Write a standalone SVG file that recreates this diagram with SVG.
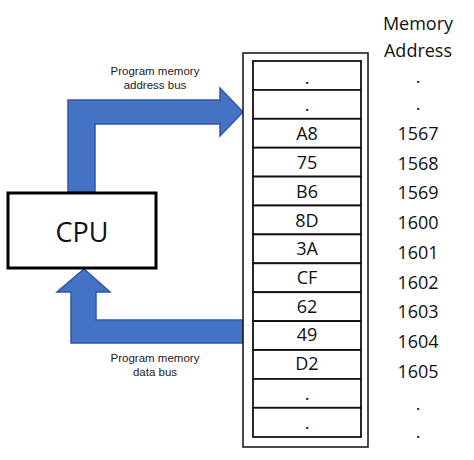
<svg xmlns="http://www.w3.org/2000/svg" width="474" height="460" viewBox="0 0 474 460">
<style>
.bus{fill:#4472C4;stroke:#2F55A8;stroke-width:1.5}
.lbl{font-family:"Liberation Sans",Arial,sans-serif;font-size:11.5px;fill:#222;text-anchor:middle}
.cell{font-family:"Open Sans","Liberation Sans",sans-serif;font-size:18px;fill:#111;text-anchor:middle;dominant-baseline:central}
.hdr{font-family:"Open Sans","Liberation Sans",sans-serif;font-size:18px;fill:#111;text-anchor:middle}
.row{fill:#fff;stroke:#111;stroke-width:1.8}
</style>
<rect width="474" height="460" fill="#fff"/>
<g id="connectors">
<path class="bus" d="M68,192 V100 H220 V88 L243,112 L220,136 V124 H95 V192 Z"/>
<path class="bus" d="M243,320 V343 H71 V292 H57 L84,269 L110,292 H96 V320 Z"/>
</g>
<text class="lbl" x="155" y="75">Program memory</text>
<text class="lbl" x="155" y="89">address bus</text>
<text class="lbl" x="155" y="362">Program memory</text>
<text class="lbl" x="155" y="376">data bus</text>
<g id="cpu">
<rect x="8" y="193" width="148" height="75" fill="#fff" stroke="#000" stroke-width="3"/>
<text x="82" y="231" font-family="Open Sans, Liberation Sans, sans-serif" font-size="27" text-anchor="middle" dominant-baseline="central" fill="#111">CPU</text>
</g>
<g id="memory">
<rect x="243" y="53" width="125" height="394" fill="#fff" stroke="#111" stroke-width="1.5"/>
<g>
<rect class="row" x="253" y="61" width="108" height="28.9"/>
<rect class="row" x="253" y="89.9" width="108" height="28.9"/>
<rect class="row" x="253" y="118.8" width="108" height="28.9"/>
<rect class="row" x="253" y="147.7" width="108" height="28.9"/>
<rect class="row" x="253" y="176.6" width="108" height="28.9"/>
<rect class="row" x="253" y="205.5" width="108" height="28.9"/>
<rect class="row" x="253" y="234.4" width="108" height="28.9"/>
<rect class="row" x="253" y="263.3" width="108" height="28.9"/>
<rect class="row" x="253" y="292.2" width="108" height="28.9"/>
<rect class="row" x="253" y="321.1" width="108" height="28.9"/>
<rect class="row" x="253" y="350" width="108" height="28.9"/>
<rect class="row" x="253" y="378.9" width="108" height="28.9"/>
<rect class="row" x="253" y="407.8" width="108" height="29.2"/>
</g>
<text class="cell" x="307" y="77">.</text>
<text class="cell" x="307" y="104">.</text>
<text class="cell" x="307" y="133">A8</text>
<text class="cell" x="307" y="162">75</text>
<text class="cell" x="307" y="191">B6</text>
<text class="cell" x="307" y="220">8D</text>
<text class="cell" x="307" y="248">3A</text>
<text class="cell" x="307" y="277">CF</text>
<text class="cell" x="307" y="306">62</text>
<text class="cell" x="307" y="334">49</text>
<text class="cell" x="307" y="363">D2</text>
<text class="cell" x="307" y="393">.</text>
<text class="cell" x="307" y="422">.</text>
</g>
<g id="addresses">
<text class="hdr" x="418" y="30">Memory</text>
<text class="hdr" x="418" y="57">Address</text>
<text class="cell" x="418" y="76">.</text>
<text class="cell" x="418" y="103">.</text>
<text class="cell" x="418" y="133">1567</text>
<text class="cell" x="418" y="163">1568</text>
<text class="cell" x="418" y="192">1569</text>
<text class="cell" x="418" y="222">1600</text>
<text class="cell" x="418" y="252">1601</text>
<text class="cell" x="418" y="282">1602</text>
<text class="cell" x="418" y="311">1603</text>
<text class="cell" x="418" y="341">1604</text>
<text class="cell" x="418" y="371">1605</text>
<text class="cell" x="418" y="403">.</text>
<text class="cell" x="418" y="431">.</text>
</g>
</svg>
